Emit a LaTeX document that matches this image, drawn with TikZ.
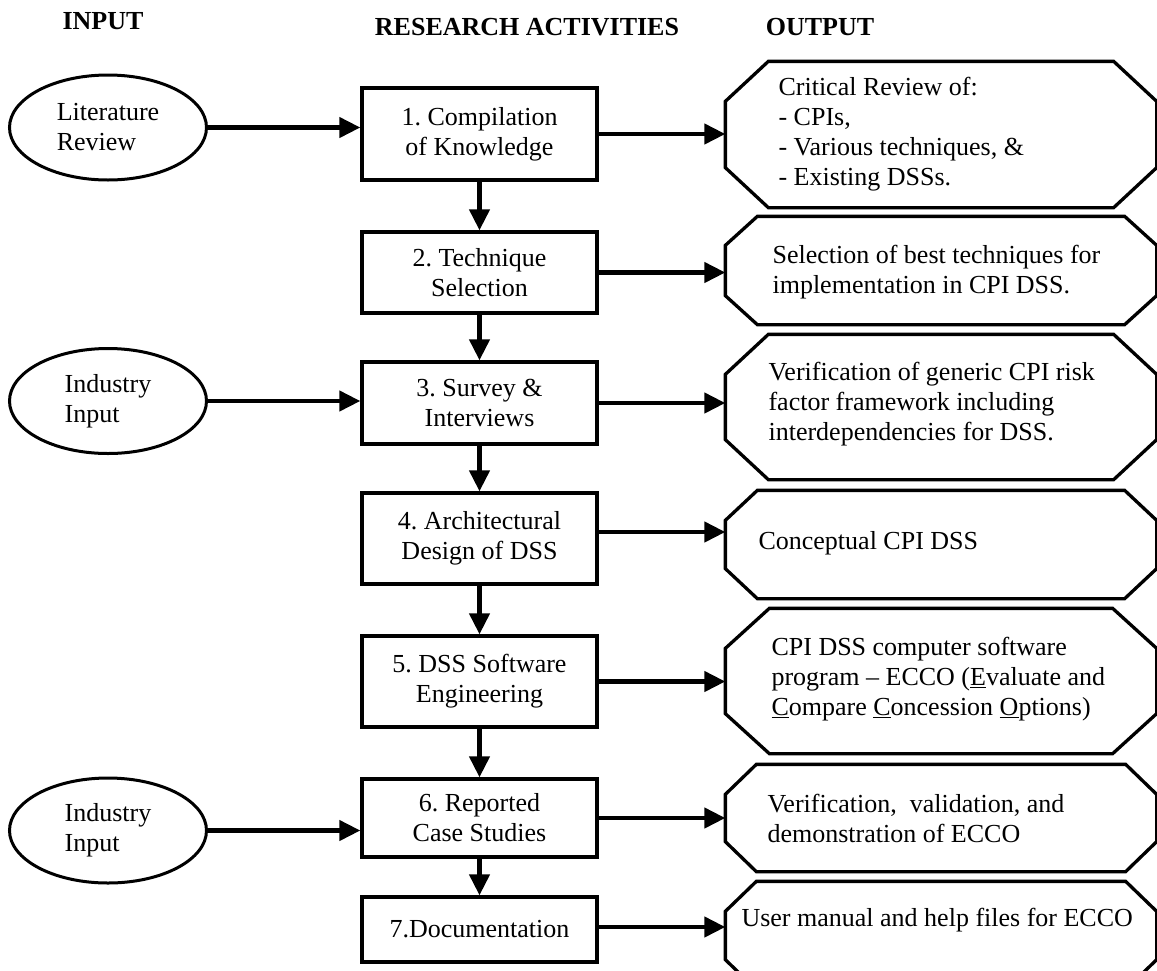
\documentclass[tikz,border=0pt]{standalone}
\usepackage{fontspec}
\setmainfont{Liberation Serif}
\usetikzlibrary{arrows.meta,shapes.geometric}
\frenchspacing

% Octagonal outline around a (borderless) frame node: #1 name, #2 horizontal chamfer, #3 vertical chamfer
\newcommand\octagonframe[3]{%
  \draw[octline] ([xshift=#2]#1.north west) -- ([xshift=-#2]#1.north east)
    -- ([yshift=-#3]#1.north east) -- ([yshift=#3]#1.south east)
    -- ([xshift=-#2]#1.south east) -- ([xshift=#2]#1.south west)
    -- ([yshift=#3]#1.south west) -- ([yshift=-#3]#1.north west) -- cycle;}

\begin{document}
\begin{tikzpicture}[x=1pt,y=-1pt,
  every node/.style={font=\fontsize{26}{30}\selectfont},
  head/.style={font=\fontsize{26}{30}\selectfont\bfseries,inner sep=0pt},
  stepbox/.style={draw,line width=3.3pt,minimum width=235pt,inner sep=0pt,align=center},
  source/.style={draw,ellipse,line width=3pt,minimum width=197pt,minimum height=105pt,inner sep=0pt,align=left},
  outframe/.style={rectangle,draw=none,minimum width=428pt,inner sep=0pt,outer sep=1.65pt},
  octline/.style={line width=3.3pt,line join=miter},
  outtext/.style={anchor=west,inner sep=0pt,align=left},
  arr/.style={line width=4.3pt,-{Triangle[length=21pt,width=20pt]}}
]
\clip (0,0) rectangle (1157,970);

% column headings
\node[head] (hin)  at (103,21) {INPUT};
\node[head] (hact) at (527,27) {RESEARCH ACTIVITIES};
\node[head] (hout) at (820,27) {OUTPUT};

% inputs
\node[source] (e1) at (108,127.5) {Literature\\Review};
\node[source] (e2) at (108,401)   {Industry\\Input};
\node[source] (e3) at (108,830.5) {Industry\\Input};

% research activities
\node[stepbox,minimum height=92pt] (b1) at (479.5,134)   {1. Compilation\\of Knowledge};
\node[stepbox,minimum height=81pt] (b2) at (479.5,272.5) {2. Technique\\Selection};
\node[stepbox,minimum height=82pt] (b3) at (479.5,403)   {3. Survey \&\\Interviews};
\node[stepbox,minimum height=91pt] (b4) at (479.5,538.5) {4. Architectural\\Design of DSS};
\node[stepbox,minimum height=91pt] (b5) at (479.5,681.5) {5. DSS Software\\Engineering};
\node[stepbox,minimum height=78pt] (b6) at (479.5,818)   {6. Reported\\Case Studies};
\node[stepbox,minimum height=65pt] (b7) at (479.5,929.5) {7.Documentation};

% outputs: frames
\node[outframe,minimum height=143pt] (o1) at (941,134.5) {};
\node[outframe,minimum height=105pt] (o2) at (941,270.5) {};
\node[outframe,minimum height=142pt] (o3) at (941,407)   {};
\node[outframe,minimum height=105pt] (o4) at (941,544.5) {};
\node[outframe,minimum height=142pt] (o5) at (941,681)   {};
\node[outframe,minimum height=104pt] (o6) at (941,818)   {};
\node[outframe,minimum height=105pt] (o7) at (941,935.5) {};
\octagonframe{o1}{43pt}{40pt}
\octagonframe{o2}{32pt}{29pt}
\octagonframe{o3}{43pt}{40pt}
\octagonframe{o4}{32pt}{30pt}
\octagonframe{o5}{44pt}{40pt}
\octagonframe{o6}{31pt}{30pt}
\octagonframe{o7}{31pt}{30pt}

% outputs: texts
\node[outtext] (t1) at ([xshift=53pt]o1.west) {Critical Review of:\\- CPIs,\\- Various techniques, \&\\- Existing DSSs.};
\node[outtext] (t2) at ([xshift=47pt,yshift=-1.5pt]o2.west) {Selection of best techniques for\\implementation in CPI DSS.};
\node[outtext] (t3) at ([xshift=43pt,yshift=3pt]o3.west) {Verification of generic CPI risk\\factor framework including\\interdependencies for DSS.};
\node[outtext] (t4) at ([xshift=33pt,yshift=1.5pt]o4.west) {Conceptual CPI DSS};
\node[outtext] (t5) at ([xshift=46pt,yshift=2pt]o5.west) {CPI DSS computer software\\program -- ECCO (\underline{E}valuate and\\\underline{C}ompare \underline{C}oncession \underline{O}ptions)};
\node[outtext] (t6) at ([xshift=42pt]o6.west) {Verification,\ \ validation, and\\demonstration of ECCO};
\node[outtext] (t7) at ([xshift=16pt,yshift=15.5pt]o7.west) {User manual and help files for ECCO};

% inputs into activities
\draw[arr] (e1.east) -- (e1.east -| b1.west);
\draw[arr] (e2.east) -- (e2.east -| b3.west);
\draw[arr] (e3.east) -- (e3.east -| b6.west);

% activity sequence
\draw[arr] (b1.south) -- (b2.north);
\draw[arr] (b2.south) -- (b3.north);
\draw[arr] (b3.south) -- (b4.north);
\draw[arr] (b4.south) -- (b5.north);
\draw[arr] (b5.south) -- (b6.north);
\draw[arr] (b6.south) -- (b7.north);

% activities to outputs
\draw[arr] (b1.east) -- (b1.east -| o1.west);
\draw[arr] (b2.east) -- (b2.east -| o2.west);
\draw[arr] (b3.east) -- (b3.east -| o3.west);
\draw[arr] ([yshift=6.5pt]b4.east) -- ([yshift=6.5pt]b4.east -| o4.west);
\draw[arr] (b5.east) -- (b5.east -| o5.west);
\draw[arr] (b6.east) -- (b6.east -| o6.west);
\draw[arr] ([yshift=2.5pt]b7.east) -- ([yshift=2.5pt]b7.east -| o7.west);
\end{tikzpicture}
\end{document}
